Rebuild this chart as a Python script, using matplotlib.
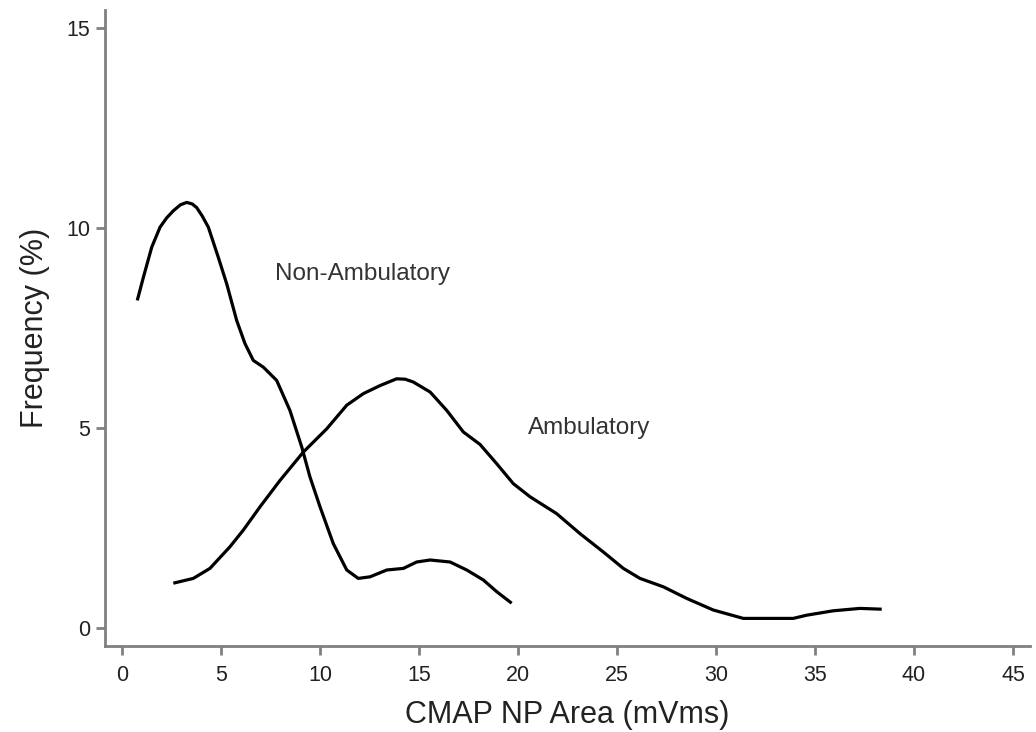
import numpy as np
import matplotlib
matplotlib.use('Agg')
import matplotlib.pyplot as plt

plt.rcParams['font.family'] = ['Liberation Sans', 'DejaVu Sans']

# Non-Ambulatory curve
non_amb_x = [0.77, 1.08, 1.50, 1.92, 2.25, 2.59, 2.95, 3.27, 3.55, 3.77, 4.05, 4.36, 4.86,
             5.29, 5.79, 6.21, 6.63, 7.14, 7.81, 8.48, 9.08, 9.49, 10.0, 10.67, 11.35,
             11.93, 12.53, 13.37, 14.21, 14.88, 15.56, 16.57, 17.41, 18.25, 18.92, 19.68]
non_amb_y = [8.19, 8.77, 9.52, 10.02, 10.25, 10.43, 10.58, 10.64, 10.60, 10.51, 10.30, 10.02, 9.27,
             8.60, 7.69, 7.11, 6.69, 6.52, 6.19, 5.44, 4.52, 3.78, 3.03, 2.11, 1.45,
             1.24, 1.28, 1.45, 1.49, 1.65, 1.70, 1.65, 1.45, 1.20, 0.91, 0.62]

# Ambulatory curve
amb_x = [2.59, 3.60, 4.44, 5.45, 6.13, 6.97, 7.98, 9.16, 10.34, 11.35, 12.19, 13.03,
         13.87, 14.30, 14.71, 15.56, 16.40, 17.24, 18.08, 18.92, 19.76, 20.61, 21.95, 23.13,
         24.31, 25.32, 26.16, 27.34, 28.52, 29.86, 31.38, 33.90, 34.58, 35.92, 37.27, 38.37]
amb_y = [1.12, 1.24, 1.49, 2.03, 2.45, 3.03, 3.69, 4.40, 4.98, 5.57, 5.86, 6.06,
         6.23, 6.22, 6.15, 5.90, 5.44, 4.90, 4.59, 4.11, 3.61, 3.28, 2.86, 2.36,
         1.90, 1.49, 1.24, 1.03, 0.74, 0.45, 0.24, 0.24, 0.32, 0.43, 0.49, 0.47]

x_ticks = [0, 5, 10, 15, 20, 25, 30, 35, 40, 45]
y_ticks = [0, 5, 10, 15]

fig = plt.figure(figsize=(10.36, 7.32), dpi=100)
ax = fig.add_axes([105 / 1036, 1 - 646 / 732, 925 / 1036, 636 / 732])

ax.plot(non_amb_x, non_amb_y, color='black', lw=2.3, solid_capstyle='butt', solid_joinstyle='round')
ax.plot(amb_x, amb_y, color='black', lw=2.3, solid_capstyle='butt', solid_joinstyle='round')

ax.text(7.73, 8.86, 'Non-Ambulatory', fontsize=17.5, color='#333333', va='center', ha='left')
ax.text(20.5, 4.99, 'Ambulatory', fontsize=17.5, color='#333333', va='center', ha='left')

ax.set_xlim(-0.86, 45.86)
ax.set_ylim(-0.45, 15.45)
ax.set_xticks(x_ticks)
ax.set_yticks(y_ticks)

for s in ['top', 'right']:
    ax.spines[s].set_visible(False)
for s in ['left', 'bottom']:
    ax.spines[s].set_color('#808080')
    ax.spines[s].set_linewidth(2)

ax.tick_params(axis='both', colors='#808080', width=2, length=6.5, labelsize=15.5,
               labelcolor='#222222')
ax.tick_params(axis='x', pad=7)
ax.tick_params(axis='y', pad=4)

ax.set_xlabel('CMAP NP Area (mVms)', fontsize=22, color='#222222', labelpad=10)
ax.set_ylabel('Frequency (%)', fontsize=22, color='#222222', labelpad=12)

fig.savefig('out.png', dpi=100)
